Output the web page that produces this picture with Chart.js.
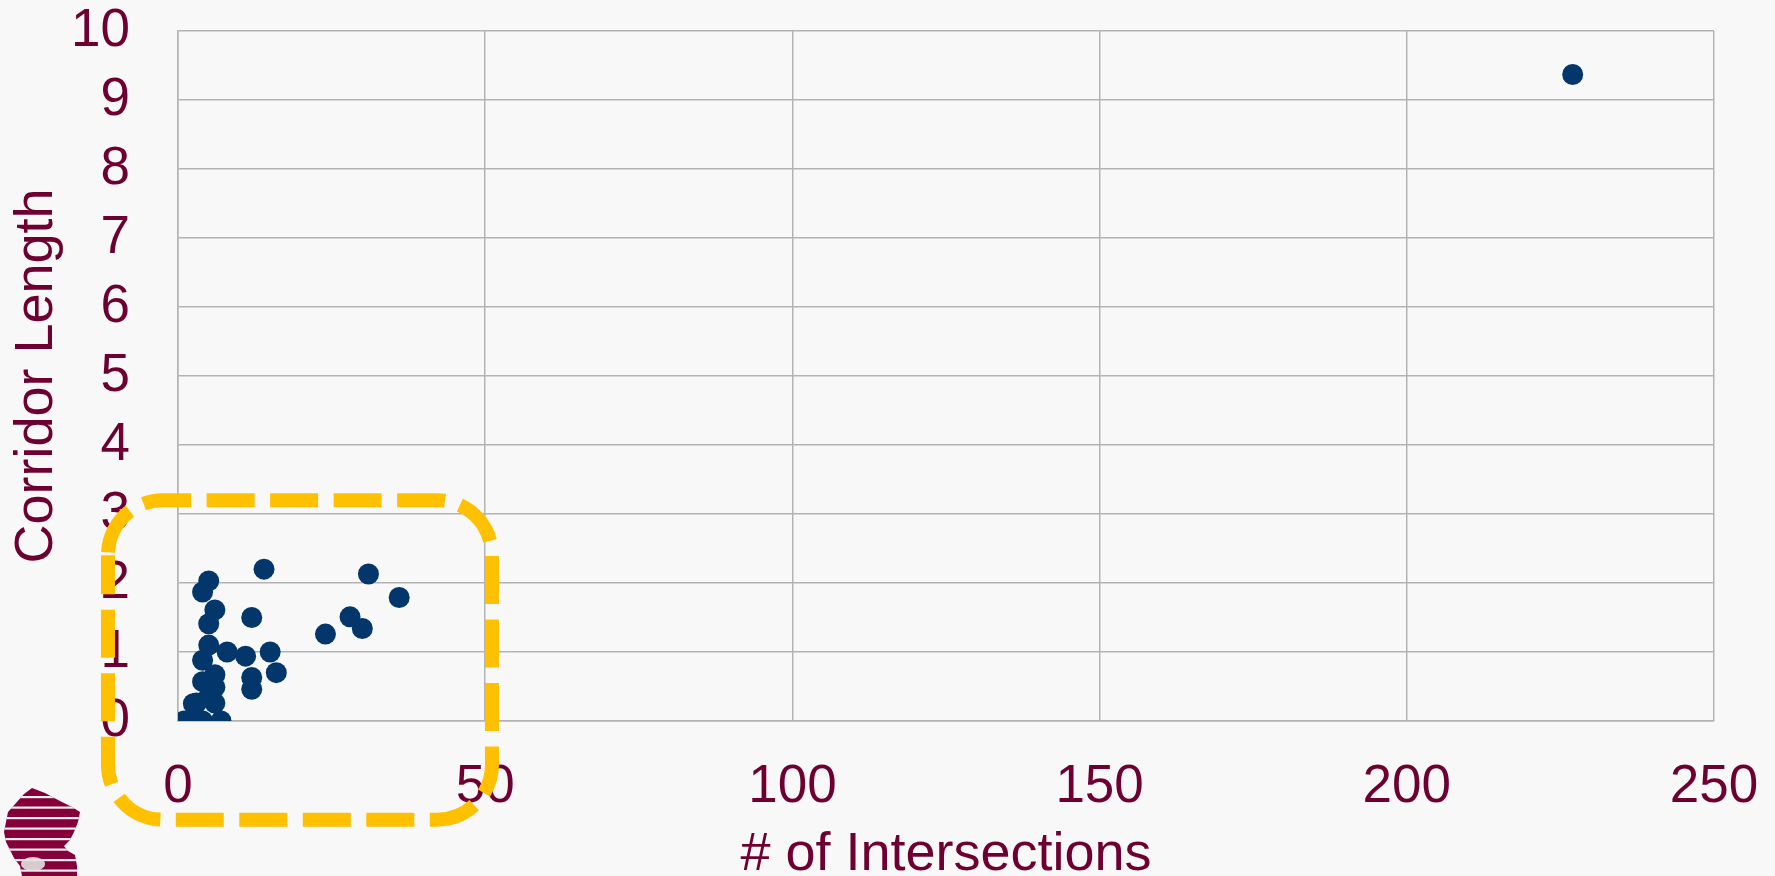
<!DOCTYPE html>
<html>
<head>
<meta charset="utf-8">
<script src="https://cdn.jsdelivr.net/npm/chart.js@4"></script>
<style>
  html, body { margin: 0; padding: 0; background: #f8f8f8; }
  #wrap { width: 1775px; height: 876px; position: relative; }
</style>
</head>
<body>
<div id="wrap"><canvas id="c" width="1775" height="876"></canvas></div>
<script>
// ---- data ----
const intersections = [227, 14, 5, 4, 6, 5, 12, 31, 36, 28, 30, 24, 5, 8, 4, 11, 15, 16, 12, 12, 6, 4, 6, 6, 3, 5, 2.5, 1, 3, 4, 7];
const corridorLength = [9.37, 2.20, 2.03, 1.87, 1.61, 1.41, 1.50, 2.13, 1.79, 1.51, 1.34, 1.26, 1.10, 1.00, 0.88, 0.94, 1.00, 0.70, 0.63, 0.46, 0.67, 0.57, 0.49, 0.26, 0.26, 0.35, 0.25, 0, 0, 0, 0];
const xTicks = [0, 50, 100, 150, 200, 250];
const yTicks = [0, 1, 2, 3, 4, 5, 6, 7, 8, 9, 10];
const xTitle = '# of Intersections';
const yTitle = 'Corridor Length';
// highlight box (data units) around the cluster
const highlightX = [-11.4, 51.1];
const highlightY = [-1.43, 3.2];

const points = intersections.map((x, i) => ({ x: x, y: corridorLength[i] }));

const MAROON = '#6d0030';
const GRID = '#b3b3b3';

function zeroPad(scale) {
  scale.paddingTop = 0; scale.paddingBottom = 0;
  scale.paddingLeft = 0; scale.paddingRight = 0;
}

const bgPlugin = {
  id: 'bg',
  beforeDraw(chart) {
    const ctx = chart.ctx;
    ctx.save();
    ctx.fillStyle = '#f8f8f8';
    ctx.fillRect(0, 0, chart.width, chart.height);
    ctx.restore();
  }
};

const highlightPlugin = {
  id: 'highlight',
  afterDraw(chart) {
    const xs = chart.scales.x, ys = chart.scales.y;
    const x0 = xs.getPixelForValue(highlightX[0]);
    const x1 = xs.getPixelForValue(highlightX[1]);
    const y0 = ys.getPixelForValue(highlightY[1]);
    const y1 = ys.getPixelForValue(highlightY[0]);
    const r = 55;
    const ctx = chart.ctx;
    ctx.save();
    ctx.strokeStyle = '#ffc000';
    ctx.lineWidth = 14;
    ctx.setLineDash([48, 15.5]);
    ctx.lineDashOffset = 60.6;
    ctx.beginPath();
    ctx.moveTo(x0, y0 + r);
    ctx.arcTo(x0, y0, x0 + r, y0, r);
    ctx.lineTo(x1 - r, y0);
    ctx.arcTo(x1, y0, x1, y0 + r, r);
    ctx.lineTo(x1, y1 - r);
    ctx.arcTo(x1, y1, x1 - r, y1, r);
    ctx.lineTo(x0 + r, y1);
    ctx.arcTo(x0, y1, x0, y1 - r, r);
    ctx.lineTo(x0, y0 + r);
    ctx.stroke();
    ctx.restore();
  }
};

// decorative logo (striped map shape) bottom-left
const logoPlugin = {
  id: 'logo',
  afterDraw(chart) {
    const ctx = chart.ctx;
    const shape = [[32,788],[45,793],[60,801],[72,807],[80,812],[78,822],[74,832],[70,840],[64,846],[68,851],[75,855],[77,866],[77,876],[22,876],[20,866],[14,858],[10,850],[6,842],[4,832],[6,822],[8,812],[16,803],[24,794]];
    ctx.save();
    ctx.beginPath();
    shape.forEach((p, i) => i ? ctx.lineTo(p[0], p[1]) : ctx.moveTo(p[0], p[1]));
    ctx.closePath();
    ctx.fillStyle = '#85003a';
    ctx.fill();
    ctx.clip();
    ctx.fillStyle = '#f4eef0';
    for (let y = 796; y < 876; y += 10.5) {
      ctx.fillRect(0, y, 90, 2.2);
    }
    ctx.restore();
    ctx.save();
    ctx.fillStyle = 'rgba(225,225,225,0.9)';
    ctx.beginPath();
    ctx.ellipse(33, 864, 12, 7, 0, 0, Math.PI * 2);
    ctx.fill();
    ctx.restore();
  }
};

new Chart(document.getElementById('c'), {
  type: 'scatter',
  data: {
    datasets: [{
      data: points,
      backgroundColor: '#03366a',
      borderWidth: 0,
      pointRadius: 10.5,
      pointHoverRadius: 10.5
    }]
  },
  options: {
    responsive: false,
    animation: false,
    devicePixelRatio: 1,
    layout: { padding: { top: 31, right: 61, left: 0, bottom: 0 } },
    plugins: { legend: { display: false }, tooltip: { enabled: false } },
    scales: {
      x: {
        type: 'linear',
        min: xTicks[0],
        max: xTicks[xTicks.length - 1],
        afterBuildTicks(scale) { scale.ticks = xTicks.map(v => ({ value: v })); },
        afterFit(scale) { scale.height = 155; zeroPad(scale); },
        grid: { color: GRID, lineWidth: 1.5, drawTicks: false },
        border: { color: GRID, width: 1.5 },
        ticks: {
          color: MAROON,
          padding: 35,
          font: { family: '"Liberation Sans", Arial, sans-serif', size: 53 },
          maxRotation: 0,
          callback: v => String(v)
        },
        title: {
          display: true,
          text: xTitle,
          color: MAROON,
          padding: { top: 0, bottom: 0 },
          font: { family: '"Liberation Sans", Arial, sans-serif', size: 54, lineHeight: 0.76 }
        }
      },
      y: {
        type: 'linear',
        min: yTicks[0],
        max: yTicks[yTicks.length - 1],
        afterBuildTicks(scale) { scale.ticks = yTicks.map(v => ({ value: v })); },
        afterFit(scale) { scale.width = 178; zeroPad(scale); },
        grid: { color: GRID, lineWidth: 1.5, drawTicks: false },
        border: { color: GRID, width: 1.5 },
        ticks: {
          color: MAROON,
          padding: 48,
          font: { family: '"Liberation Sans", Arial, sans-serif', size: 53 },
          callback: v => String(v)
        },
        title: {
          display: true,
          text: yTitle,
          color: MAROON,
          padding: { top: 5, bottom: 0 },
          font: { family: '"Liberation Sans", Arial, sans-serif', size: 54, lineHeight: 1.2 }
        }
      }
    }
  },
  plugins: [bgPlugin, highlightPlugin, logoPlugin]
});
</script>
</body>
</html>
